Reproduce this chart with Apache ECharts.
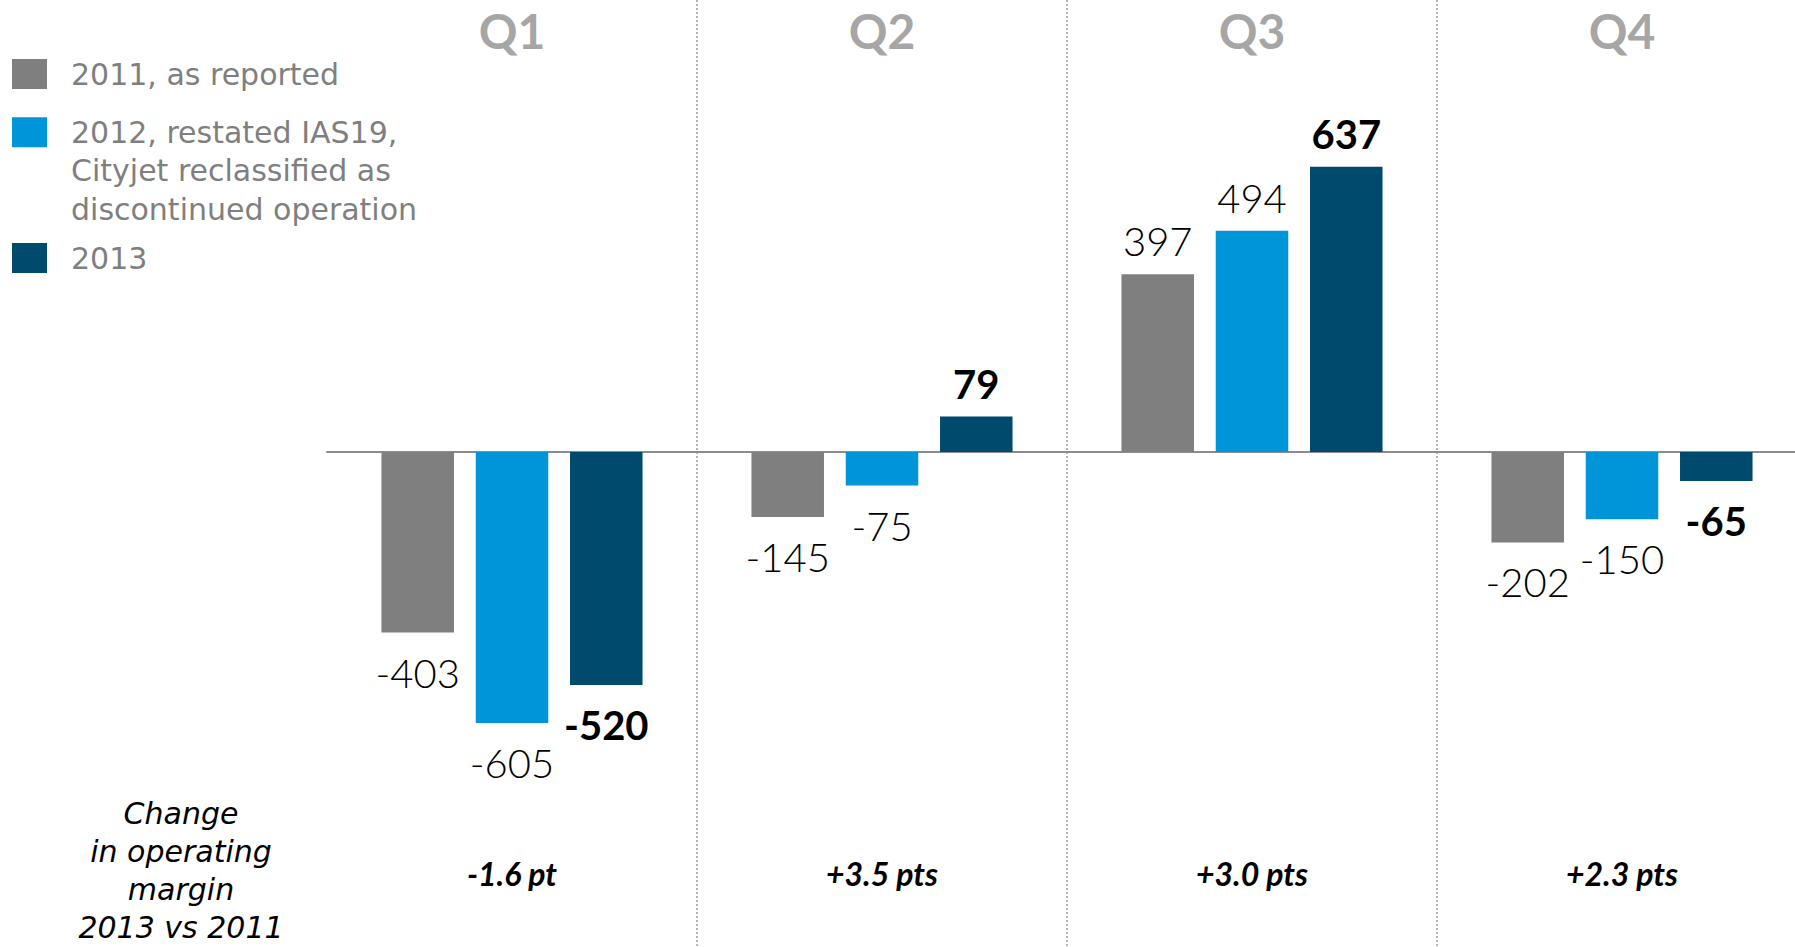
<!DOCTYPE html>
<html>
<head>
<meta charset="utf-8">
<title>Operating result by quarter</title>
<script src="https://cdn.jsdelivr.net/npm/echarts@6/dist/echarts.min.js"></script>
<style>
  html, body { margin: 0; padding: 0; background: #ffffff; }
  #chart { width: 1795px; height: 947px; }
</style>
</head>
<body>
<div id="chart"></div>
<script>
// Quarters and operating result per year (EUR m)
const quarters = ['Q1', 'Q2', 'Q3', 'Q4'];
const seriesNames = [
  '2011, as reported',
  '2012, restated IAS19,\nCityjet reclassified as\ndiscontinued operation',
  '2013'
];
const values2011 = [-403, -145, 397, -202];
const values2012 = [-605, -75, 494, -150];
const values2013 = [-520, 79, 637, -65];
// Change in operating margin, 2013 vs 2011
const marginChange = ['-1.6 pt', '+3.5 pts', '+3.0 pts', '+2.3 pts'];
const marginCaption = 'Change\nin operating\nmargin\n2013 vs 2011';

const colors = ['#7f7f7f', '#0095d9', '#004a6e'];
const FONT = 'Lato, "Open Sans", sans-serif';
const TEXT_FONT = '"DejaVu Sans", sans-serif';

const chart = echarts.init(document.getElementById('chart'), null, { renderer: 'svg' });

function barData(vals) {
  return vals.map(v => ({
    value: v,
    label: { position: v < 0 ? 'bottom' : 'top', distance: v < 0 ? 20 : 13 }
  }));
}

function barSeries(name, vals, color, bold) {
  return {
    name: name,
    type: 'bar',
    xAxisIndex: 0,
    yAxisIndex: 0,
    barWidth: '19.6%',
    barGap: '30%',
    itemStyle: { color: color },
    label: {
      show: true,
      color: '#000000',
      fontFamily: FONT,
      fontSize: 40,
      fontWeight: bold ? 'bold' : 300
    },
    emphasis: { disabled: true },
    data: barData(vals)
  };
}

const legendBase = {
  orient: 'vertical',
  left: 12,
  padding: 0,
  icon: 'rect',
  itemWidth: 35,
  itemHeight: 30,
  selectedMode: false
};

chart.setOption({
  animation: false,
  // the plot runs a little past the right edge, so the last quarter is partly cut
  grid: { left: 327, width: 1480, top: 0, bottom: 0, containLabel: false, outerBoundsMode: 'none' },
  legend: [
    Object.assign({}, legendBase, {
      top: 59,
      data: [seriesNames[0]],
      textStyle: { color: '#7f7f7f', fontFamily: TEXT_FONT, fontSize: 30, lineHeight: 30, padding: [0, 0, 0, 19] }
    }),
    Object.assign({}, legendBase, {
      // two empty lines above keep the first text line level with the swatch
      top: 36,
      data: [seriesNames[1]],
      formatter: name => '\n\n' + name,
      textStyle: { color: '#7f7f7f', fontFamily: TEXT_FONT, fontSize: 30, lineHeight: 38.5, padding: [0, 0, 0, 19] }
    }),
    Object.assign({}, legendBase, {
      top: 243,
      data: [seriesNames[2]],
      textStyle: { color: '#7f7f7f', fontFamily: TEXT_FONT, fontSize: 30, lineHeight: 30, padding: [0, 0, 0, 19] }
    })
  ],
  xAxis: [
    {
      // main category axis: zero line and quarter separators
      type: 'category',
      data: quarters,
      position: 'bottom',
      axisLine: { show: true, onZero: true, lineStyle: { color: '#8c8c8c', width: 2 } },
      axisTick: { show: false },
      axisLabel: { show: false },
      splitLine: {
        show: true,
        showMinLine: false,
        lineStyle: { color: '#9a9a9a', width: 1.5, type: [2, 2] }
      }
    },
    {
      // quarter headings along the top
      type: 'category',
      data: quarters,
      position: 'top',
      axisLine: { show: false, onZero: false },
      axisTick: { show: false },
      axisLabel: {
        inside: true,
        margin: 6,
        color: '#a6a6a6',
        fontFamily: FONT,
        fontWeight: 'bold',
        fontSize: 48
      },
      splitLine: { show: false }
    },
    {
      // margin change per quarter along the bottom
      type: 'category',
      data: quarters,
      position: 'bottom',
      axisLine: { show: false, onZero: false },
      axisTick: { show: false },
      axisLabel: {
        inside: true,
        margin: 58,
        color: '#000000',
        fontFamily: FONT,
        fontWeight: 'bold',
        fontStyle: 'italic',
        fontSize: 32,
        formatter: (v, i) => marginChange[i]
      },
      splitLine: { show: false }
    }
  ],
  yAxis: {
    type: 'value',
    min: -1105,
    max: 1009,
    show: false,
    splitLine: { show: false }
  },
  graphic: [
    {
      type: 'text',
      x: 181,
      y: 870,
      style: {
        text: marginCaption,
        x: 0,
        y: 0,
        align: 'center',
        verticalAlign: 'middle',
        fill: '#000000',
        font: 'italic 30px ' + TEXT_FONT,
        lineHeight: 38
      }
    }
  ],
  series: [
    barSeries(seriesNames[0], values2011, colors[0], false),
    barSeries(seriesNames[1], values2012, colors[1], false),
    barSeries(seriesNames[2], values2013, colors[2], true)
  ]
});
</script>
</body>
</html>
